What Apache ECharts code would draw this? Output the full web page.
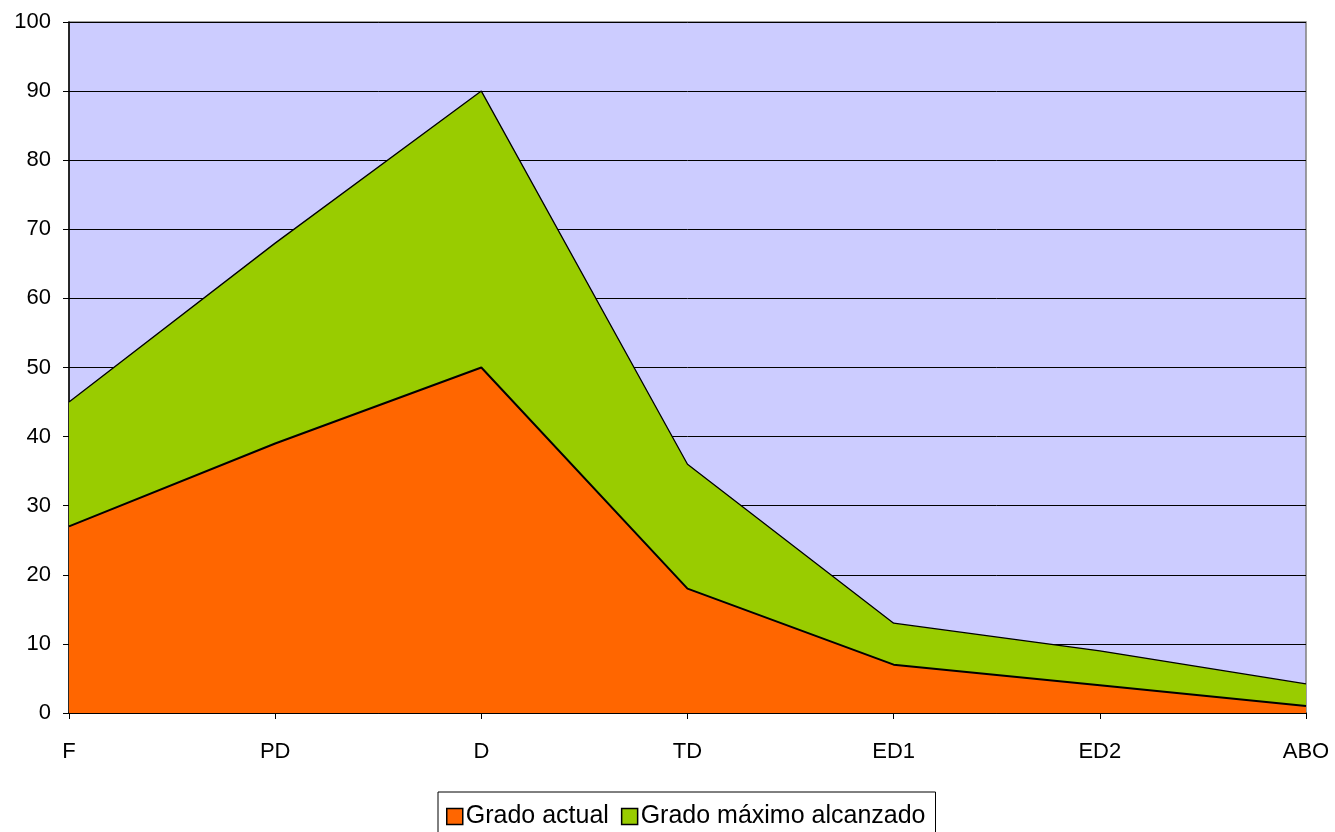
<!DOCTYPE html>
<html><head><meta charset="utf-8">
<script src="https://cdn.jsdelivr.net/npm/echarts@6/dist/echarts.min.js"></script>
<style>html,body{margin:0;padding:0;background:#fff}#c{width:1335px;height:832px}</style>
</head><body><div id="c"></div>
<script>
const categories = ['F','PD','D','TD','ED1','ED2','ABO'];
const gradoActual = [27, 39, 50, 18, 7, 4, 1];
const gradoMaximo = [45, 68, 90, 36, 13, 9, 4.2];
const yTicks = {min: 0, max: 100, interval: 10};
const seriesNames = ['Grado actual', 'Grado máximo alcanzado'];

const chart = echarts.init(document.getElementById('c'));
const font = 'Liberation Sans, Arial, sans-serif';
chart.setOption({
  animation: false,
  grid: {left: 69, top: 22, right: 29, bottom: 119, show: true, backgroundColor: '#CCCCFF', borderColor: '#808080', borderWidth: 1.5},
  legend: {
    data: [
      {name: seriesNames[0], itemStyle: {color: '#FF6600', borderColor: '#000', borderWidth: 1.5}},
      {name: seriesNames[1], itemStyle: {color: '#99CC00', borderColor: '#000', borderWidth: 1.5}}
    ],
    top: 792, left: 438,
    icon: 'rect', itemWidth: 16, itemHeight: 16, itemGap: 12,
    borderColor: '#000', borderWidth: 1, padding: [12, 10, 20, 8],
    textStyle: {fontFamily: font, fontSize: 25, color: '#000', padding: [0, 0, 0, -2]}
  },
  xAxis: {
    type: 'category', data: categories, boundaryGap: false,
    axisLine: {lineStyle: {color: '#000', width: 1.5}},
    axisTick: {show: true, length: 6, lineStyle: {color: '#000'}},
    axisLabel: {fontFamily: font, fontSize: 22, color: '#000', margin: 28},
    splitLine: {show: false}
  },
  yAxis: {
    type: 'value', min: yTicks.min, max: yTicks.max, interval: yTicks.interval,
    axisLine: {show: true, lineStyle: {color: '#000', width: 1.5}},
    axisTick: {show: true, length: 6, lineStyle: {color: '#000'}},
    axisLabel: {fontFamily: font, fontSize: 22, color: '#000', margin: 18},
    splitLine: {lineStyle: {color: '#000', width: 1}}
  },
  series: [
    {name: seriesNames[1], type: 'line', data: gradoMaximo, symbol: 'none', z: 2,
     lineStyle: {color: '#000', width: 1.3}, itemStyle: {color: '#99CC00'},
     areaStyle: {color: '#99CC00', opacity: 1}},
    {name: seriesNames[0], type: 'line', data: gradoActual, symbol: 'none', z: 3,
     lineStyle: {color: '#000', width: 2}, itemStyle: {color: '#FF6600'},
     areaStyle: {color: '#FF6600', opacity: 1}}
  ]
});
</script></body></html>
